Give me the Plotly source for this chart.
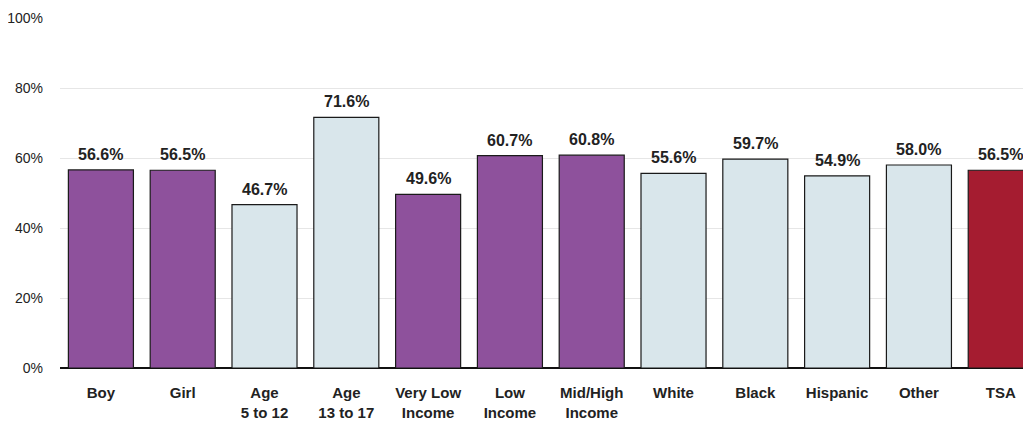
import plotly.graph_objects as go

categories = ["Boy", "Girl", "Age<br>5 to 12", "Age<br>13 to 17", "Very Low<br>Income", "Low<br>Income",
              "Mid/High<br>Income", "White", "Black", "Hispanic", "Other", "TSA"]
values = [56.6, 56.5, 46.7, 71.6, 49.6, 60.7, 60.8, 55.6, 59.7, 54.9, 58.0, 56.5]
colors = ["#8E519C", "#8E519C", "#D9E6EB", "#D9E6EB", "#8E519C", "#8E519C", "#8E519C",
          "#D9E6EB", "#D9E6EB", "#D9E6EB", "#D9E6EB", "#A51C30"]
labels = [f"<b>{v:.1f}%</b>" for v in values]

FONT = "Liberation Sans, Arial, sans-serif"
xs = list(range(len(categories)))

fig = go.Figure(go.Bar(
    x=xs, y=values,
    marker=dict(color=colors, line=dict(color="#1A1A1A", width=1.2)),
    hoverinfo="skip",
))

for x, v, t in zip(xs, values, labels):
    fig.add_annotation(x=x, y=v, text=t, showarrow=False, yanchor="bottom",
                       yshift=5, font=dict(family=FONT, size=16, color="#222222"))

fig.update_layout(
    width=1023, height=413,
    margin=dict(l=52, r=0, t=10, b=53),
    plot_bgcolor="white", paper_bgcolor="white",
    bargap=0.205, showlegend=False,
    xaxis=dict(
        tickmode="array", tickvals=xs,
        ticktext=[f"<b>{c}</b>" for c in categories],
        range=[-0.5, 11.37], showgrid=False, zeroline=False,
        showline=False, ticks="", ticklabelstandoff=14,
        tickfont=dict(family=FONT, size=15, color="#222222"),
    ),
    yaxis=dict(
        range=[0, 100], dtick=20, ticksuffix="%",
        showgrid=True, gridcolor="#E6E6E6", gridwidth=1,
        zeroline=True, zerolinecolor="#111111", zerolinewidth=1.5,
        tickfont=dict(family=FONT, size=14, color="#222222"),
        ticks="", ticklabelstandoff=16,
    ),
)

fig.write_html("out.html")
